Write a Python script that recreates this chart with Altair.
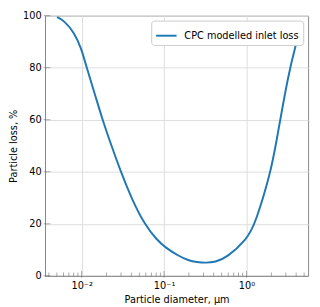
import altair as alt
import pandas as pd

# Particle diameter (um) and modelled loss (%)
diameter = [0.00502, 0.00621, 0.00809, 0.00991, 0.0115, 0.01435, 0.0179,
            0.0223, 0.0299, 0.0406, 0.0578, 0.0824, 0.1026, 0.1528,
            0.1954, 0.251, 0.323, 0.417, 0.574, 1.02, 1.27, 1.97, 2.29,
            3.21, 4.10]
loss = [99.5, 97.9, 93.6, 87.5, 80.0, 70.2, 60.0,
        51.2, 39.9, 29.5, 19.8, 13.7, 11.0, 7.5,
        6.0, 5.25, 5.0, 5.35, 6.9, 14.3, 19.8, 39.9, 51.0,
        77.6, 90.5]
series = "CPC modelled inlet loss"

x_major = [0.01, 0.1, 1]
x_minor = [0.004, 0.005, 0.006, 0.007, 0.008, 0.009,
           0.02, 0.03, 0.04, 0.05, 0.06, 0.07, 0.08, 0.09,
           0.2, 0.3, 0.4, 0.5, 0.6, 0.7, 0.8, 0.9,
           2, 3, 4, 5]
y_major = [0, 20, 40, 60, 80, 100]
x_domain = [0.00359, 5.59]

df = pd.DataFrame({"d": diameter, "loss": loss, "series": series})
ticks_x = pd.DataFrame({"d": x_major + x_minor,
                        "kind": ["major"] * len(x_major) + ["minor"] * len(x_minor)})
ticks_y = pd.DataFrame({"v": y_major})

FONT = "DejaVu Sans"
xscale = alt.Scale(type="log", domain=x_domain, nice=False)
yscale = alt.Scale(domain=[0, 100], nice=False)

line = alt.Chart(df).mark_line(strokeWidth=2, interpolate="basis").encode(
    x=alt.X("d:Q", scale=xscale,
            axis=alt.Axis(values=x_major, title="Particle diameter, μm",
                          labelExpr="datum.value == 0.01 ? '10⁻²' : datum.value == 0.1 ? '10⁻¹' : '10⁰'",
                          tickSize=0, labelPadding=5, titlePadding=4)),
    y=alt.Y("loss:Q", scale=yscale,
            axis=alt.Axis(values=y_major, title="Particle loss, %",
                          tickSize=0, labelPadding=4, titlePadding=4)),
    color=alt.Color("series:N", scale=alt.Scale(range=["#1f77b4"]),
                    legend=alt.Legend(title=None, orient="top-right", offset=5,
                                      symbolType="stroke", symbolSize=441,
                                      symbolStrokeWidth=2, labelFontSize=10,
                                      labelFont=FONT, labelOffset=7,
                                      padding=4, strokeColor="#cccccc",
                                      fillColor="white", cornerRadius=3)),
)

xt = alt.Chart(ticks_x).mark_tick(color="#666666", thickness=0.8, yOffset=-1.5).encode(
    x=alt.X("d:Q", scale=xscale),
    y=alt.datum(0, scale=yscale),
    size=alt.Size("kind:N", scale=alt.Scale(domain=["major", "minor"], range=[7, 4]), legend=None),
)

yt = alt.Chart(ticks_y).mark_tick(color="#666666", thickness=0.8, size=7, xOffset=2, orient="horizontal").encode(
    y=alt.Y("v:Q", scale=yscale),
    x=alt.datum(x_domain[0], scale=xscale),
)

chart = alt.layer(line, xt, yt).resolve_scale(size="independent").properties(
    width=270, height=267,
    autosize=alt.AutoSizeParams(type="none"),
    padding={"left": 38, "top": 4, "right": 4, "bottom": 28},
).configure_view(stroke="#888888", strokeWidth=1).configure_axis(
    labelFont=FONT, titleFont=FONT, labelFontSize=10, titleFontSize=10,
    titleFontWeight="normal", labelColor="black", titleColor="black",
    domainColor="#888888", gridColor="#dddddd", gridWidth=1,
)

chart.save("out.html", embed_options={"renderer": "svg", "actions": False})
